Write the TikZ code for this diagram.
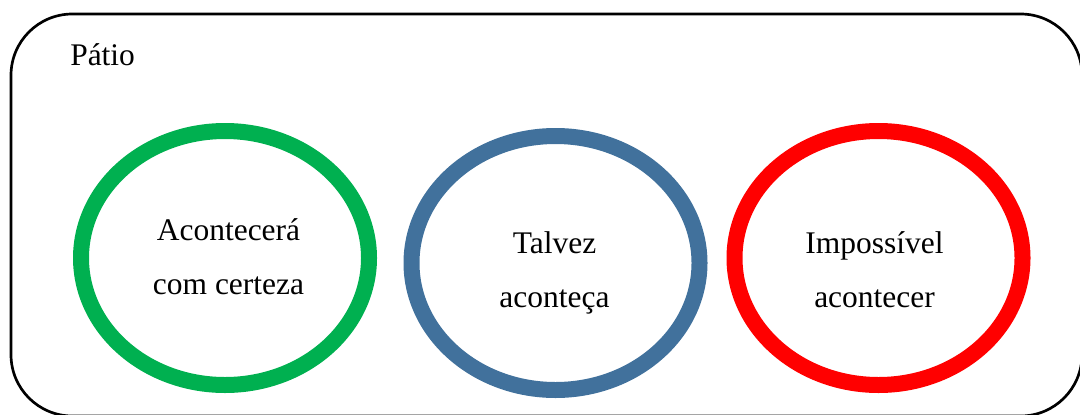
\documentclass[tikz,border=0pt]{standalone}
\usepackage{fontspec}
\setmainfont{Liberation Serif}
\usetikzlibrary{shapes.geometric}
\definecolor{certo}{HTML}{00B050}
\definecolor{talvez}{HTML}{41719C}
\definecolor{impossivel}{HTML}{FF0000}
\tikzset{
  patio/.style={draw=black, line width=2pt, rounded corners=46pt},
  ring/.style={ellipse, draw=#1, line width=12pt, minimum width=216pt, minimum height=190.5pt, inner sep=0pt},
  label/.style={font=\fontsize{23.6}{40.5}\selectfont, align=center, inner sep=0pt, anchor=base},
}
\begin{document}
\begin{tikzpicture}[x=0.75pt, y=-0.75pt]
  \useasboundingbox (0,0) rectangle (1080,414);
  % outer yard frame
  \draw[patio] (11,14) rectangle (1082,416);
  \node[font=\fontsize{23.6}{28}\selectfont, anchor=base west, inner sep=0pt] (patio) at (70,65) {Pátio};
  % the three rings
  \node[ring=certo] (certo) at (225,258) {};
  \node[ring=talvez] (talvez) at (555.5,263) {};
  \node[ring=impossivel] (impossivel) at (878.5,258) {};
  % texts inside the rings (anchored at the baseline of the last line)
  \node[label] (tcerto) at (228.5,294) {Acontecerá\\com certeza};
  \node[label] (ttalvez) at (554.5,307) {Talvez\\aconteça};
  \node[label] (timpossivel) at (874.5,307) {Impossível\\acontecer};
\end{tikzpicture}
\end{document}
